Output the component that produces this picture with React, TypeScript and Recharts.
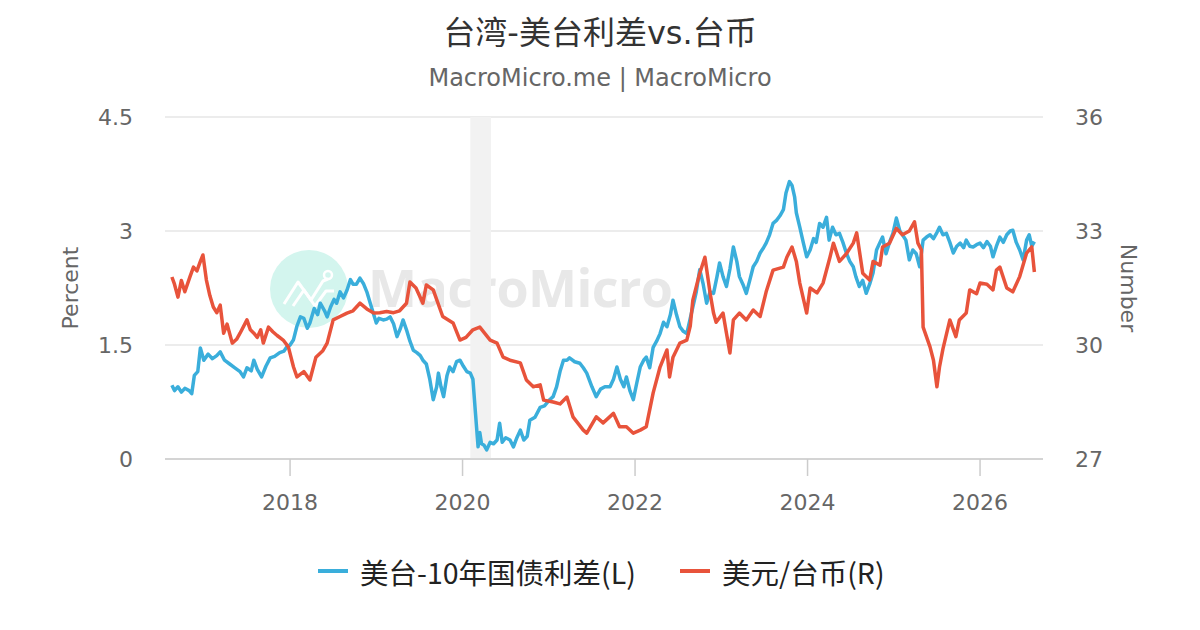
import { CartesianGrid, Line, LineChart, ReferenceArea, XAxis, YAxis } from 'recharts'

// 美台-10年国债利差 (left axis, %)
const spreadDates = [
  2016.63, 2016.66, 2016.70, 2016.74, 2016.78, 2016.83, 2016.86, 2016.89, 2016.93, 2016.96,
  2017.00, 2017.05, 2017.10, 2017.15, 2017.19, 2017.24, 2017.30, 2017.36, 2017.42, 2017.46,
  2017.50, 2017.55, 2017.58, 2017.62, 2017.67, 2017.72, 2017.77, 2017.82, 2017.88, 2017.93,
  2017.96, 2018.00, 2018.04, 2018.08, 2018.12, 2018.16, 2018.20, 2018.23, 2018.28, 2018.32,
  2018.35, 2018.40, 2018.43, 2018.47, 2018.51, 2018.54, 2018.58, 2018.62, 2018.66, 2018.70,
  2018.73, 2018.77, 2018.81, 2018.85, 2018.89, 2018.93, 2018.97, 2019.00, 2019.03, 2019.08,
  2019.12, 2019.16, 2019.20, 2019.24, 2019.28, 2019.31, 2019.35, 2019.39, 2019.43, 2019.47,
  2019.51, 2019.54, 2019.58, 2019.62, 2019.66, 2019.70, 2019.72, 2019.75, 2019.78, 2019.82,
  2019.85, 2019.89, 2019.93, 2019.97, 2020.01, 2020.05, 2020.09, 2020.12, 2020.15, 2020.18,
  2020.20, 2020.22, 2020.25, 2020.28, 2020.32, 2020.36, 2020.40, 2020.43, 2020.46, 2020.50,
  2020.55, 2020.59, 2020.63, 2020.67, 2020.71, 2020.75, 2020.78, 2020.84, 2020.90, 2020.95,
  2021.01, 2021.05, 2021.09, 2021.13, 2021.17, 2021.21, 2021.24, 2021.30, 2021.36, 2021.40,
  2021.44, 2021.50, 2021.55, 2021.60, 2021.65, 2021.71, 2021.75, 2021.79, 2021.83, 2021.87,
  2021.90, 2021.94, 2021.98, 2022.02, 2022.06, 2022.10, 2022.13, 2022.17, 2022.21, 2022.25,
  2022.29, 2022.33, 2022.37, 2022.41, 2022.44, 2022.48, 2022.52, 2022.56, 2022.60, 2022.64,
  2022.67, 2022.71, 2022.75, 2022.79, 2022.83, 2022.87, 2022.91, 2022.95, 2022.98, 2023.02,
  2023.06, 2023.10, 2023.14, 2023.18, 2023.21, 2023.25, 2023.29, 2023.33, 2023.37, 2023.41,
  2023.45, 2023.49, 2023.52, 2023.56, 2023.60, 2023.64, 2023.68, 2023.72, 2023.75, 2023.79,
  2023.82, 2023.85, 2023.87, 2023.91, 2023.95, 2023.99, 2024.03, 2024.07, 2024.10, 2024.14,
  2024.18, 2024.22, 2024.25, 2024.29, 2024.33, 2024.37, 2024.41, 2024.45, 2024.49, 2024.53,
  2024.56, 2024.60, 2024.64, 2024.68, 2024.72, 2024.76, 2024.80, 2024.84, 2024.87, 2024.91,
  2024.95, 2024.99, 2025.03, 2025.07, 2025.10, 2025.14, 2025.18, 2025.22, 2025.26, 2025.30,
  2025.34, 2025.38, 2025.42, 2025.46, 2025.50, 2025.53, 2025.57, 2025.61, 2025.65, 2025.69,
  2025.73, 2025.77, 2025.81, 2025.84, 2025.88, 2025.92, 2025.96, 2026.00, 2026.04, 2026.08,
  2026.12, 2026.15, 2026.19, 2026.23, 2026.27, 2026.31, 2026.35, 2026.38, 2026.42, 2026.46,
  2026.50, 2026.54, 2026.57, 2026.60, 2026.63,
]
const spreadValues = [
  0.97, 0.90, 0.95, 0.88, 0.93, 0.90, 0.86, 1.10, 1.15, 1.46,
  1.30, 1.38, 1.32, 1.36, 1.41, 1.30, 1.25, 1.20, 1.15, 1.08,
  1.20, 1.16, 1.30, 1.18, 1.08, 1.22, 1.33, 1.35, 1.40, 1.42,
  1.47, 1.50, 1.57, 1.75, 1.87, 1.85, 1.72, 1.79, 1.98, 1.90,
  2.05, 1.95, 1.87, 2.00, 2.10, 2.05, 2.20, 2.12, 2.22, 2.36,
  2.30, 2.30, 2.38, 2.31, 2.20, 2.05, 1.90, 1.79, 1.85, 1.83,
  1.84, 1.87, 1.78, 1.61, 1.72, 1.83, 1.70, 1.55, 1.43, 1.40,
  1.36, 1.30, 1.25, 1.05, 0.78, 0.95, 1.13, 0.95, 0.82, 1.10,
  1.21, 1.15, 1.28, 1.30, 1.22, 1.15, 1.13, 1.05, 0.60, 0.16,
  0.35, 0.20, 0.18, 0.12, 0.22, 0.20, 0.25, 0.47, 0.22, 0.28,
  0.25, 0.16, 0.28, 0.38, 0.25, 0.30, 0.51, 0.55, 0.68, 0.70,
  0.78, 0.82, 0.95, 1.15, 1.30, 1.30, 1.33, 1.28, 1.26, 1.20,
  1.13, 0.95, 0.82, 0.92, 0.95, 0.95, 1.05, 1.21, 1.05, 0.95,
  1.08, 0.90, 0.78, 1.00, 1.21, 1.30, 1.34, 1.20, 1.47, 1.55,
  1.65, 1.80, 1.74, 1.90, 2.09, 1.90, 1.74, 1.68, 1.65, 1.85,
  2.00, 2.20, 2.49, 2.30, 2.05, 2.20, 2.18, 2.40, 2.58, 2.40,
  2.27, 2.50, 2.79, 2.60, 2.40, 2.30, 2.18, 2.35, 2.53, 2.60,
  2.71, 2.78, 2.84, 2.95, 3.10, 3.14, 3.20, 3.28, 3.50, 3.65,
  3.60, 3.45, 3.24, 3.05, 2.85, 2.66, 2.75, 2.90, 2.85, 3.10,
  3.05, 3.18, 2.88, 3.05, 2.95, 2.97, 2.85, 2.71, 2.60, 2.53,
  2.40, 2.27, 2.35, 2.18, 2.30, 2.45, 2.75, 2.85, 2.92, 2.70,
  2.85, 2.97, 3.17, 3.00, 2.95, 2.88, 2.62, 2.75, 2.70, 2.53,
  2.88, 2.92, 2.95, 2.90, 2.98, 3.05, 2.95, 2.97, 2.85, 2.71,
  2.80, 2.84, 2.78, 2.88, 2.80, 2.79, 2.82, 2.84, 2.78, 2.86,
  2.80, 2.66, 2.80, 2.92, 2.85, 2.95, 3.00, 3.01, 2.85, 2.75,
  2.62, 2.88, 2.95, 2.80, 2.86,
]

// 美元/台币 (right axis)
const twdDates = [
  2016.63, 2016.66, 2016.70, 2016.74, 2016.78, 2016.84, 2016.88, 2016.92, 2016.96, 2016.99,
  2017.03, 2017.07, 2017.11, 2017.15, 2017.19, 2017.23, 2017.27, 2017.33, 2017.38, 2017.42,
  2017.50, 2017.54, 2017.58, 2017.62, 2017.66, 2017.69, 2017.75, 2017.80, 2017.85, 2017.92,
  2017.98, 2018.04, 2018.08, 2018.16, 2018.23, 2018.30, 2018.38, 2018.43, 2018.50, 2018.58,
  2018.66, 2018.73, 2018.81, 2018.89, 2018.97, 2019.04, 2019.12, 2019.20, 2019.27, 2019.35,
  2019.39, 2019.46, 2019.54, 2019.58, 2019.66, 2019.77, 2019.89, 2019.97, 2020.04, 2020.12,
  2020.20, 2020.32, 2020.40, 2020.47, 2020.55, 2020.67, 2020.74, 2020.82, 2020.90, 2020.94,
  2021.05, 2021.13, 2021.21, 2021.28, 2021.40, 2021.44, 2021.55, 2021.63, 2021.75, 2021.82,
  2021.90, 2021.98, 2022.06, 2022.13, 2022.21, 2022.29, 2022.37, 2022.40, 2022.44, 2022.52,
  2022.60, 2022.64, 2022.67, 2022.75, 2022.81, 2022.87, 2022.91, 2022.94, 2023.02, 2023.06,
  2023.10, 2023.14, 2023.21, 2023.29, 2023.37, 2023.45, 2023.52, 2023.60, 2023.72, 2023.76,
  2023.82, 2023.87, 2023.91, 2023.99, 2024.03, 2024.11, 2024.18, 2024.26, 2024.30, 2024.37,
  2024.45, 2024.53, 2024.57, 2024.64, 2024.72, 2024.76, 2024.84, 2024.87, 2024.95, 2025.03,
  2025.10, 2025.18, 2025.24, 2025.28, 2025.32, 2025.34, 2025.42, 2025.46, 2025.50, 2025.53,
  2025.57, 2025.65, 2025.72, 2025.76, 2025.84, 2025.88, 2025.96, 2026.00, 2026.08, 2026.15,
  2026.19, 2026.23, 2026.31, 2026.38, 2026.46, 2026.54, 2026.60, 2026.63,
]
const twdValues = [
  31.79, 31.60, 31.26, 31.70, 31.40, 31.80, 32.05, 31.95, 32.20, 32.37,
  31.71, 31.30, 31.00, 30.85, 31.05, 30.31, 30.55, 30.05, 30.15, 30.31,
  30.66, 30.40, 30.31, 30.20, 30.40, 30.05, 30.47, 30.35, 30.25, 30.13,
  29.95, 29.42, 29.16, 29.30, 29.08, 29.68, 29.85, 30.05, 30.66, 30.75,
  30.84, 30.90, 31.10, 30.95, 30.84, 30.85, 30.88, 30.85, 30.90, 31.10,
  31.66, 31.50, 31.10, 31.58, 31.45, 30.75, 30.58, 30.13, 30.20, 30.40,
  30.47, 30.13, 30.05, 29.68, 29.60, 29.53, 29.08, 28.90, 28.95, 28.55,
  28.50, 28.45, 28.63, 28.11, 27.76, 27.68, 28.11, 27.95, 28.20, 27.85,
  27.85, 27.68, 27.76, 27.85, 28.74, 29.42, 29.87, 29.16, 29.68, 30.05,
  30.13, 30.50, 31.18, 31.89, 32.31, 31.37, 30.84, 30.60, 30.84, 30.31,
  29.79, 30.66, 30.84, 30.66, 30.92, 30.75, 31.40, 31.97, 32.05, 32.31,
  32.58, 32.20, 31.63, 30.84, 31.50, 31.37, 31.63, 32.31, 32.68, 32.20,
  32.40, 32.68, 32.95, 31.89, 31.71, 32.20, 32.10, 32.58, 32.68, 33.07,
  32.90, 33.00, 33.24, 32.68, 32.50, 30.47, 29.95, 29.60, 28.90, 29.42,
  29.90, 30.66, 30.22, 30.66, 30.84, 31.45, 31.35, 31.63, 31.60, 31.45,
  31.97, 32.05, 31.50, 31.40, 31.80, 32.42, 32.58, 31.92,
]

const yearTicks = [2018, 2020, 2022, 2024, 2026]
const leftTicks = [0, 1.5, 3, 4.5]
const rightTicks = [27, 30, 33, 36]
const recession = [2020.09, 2020.33]

const spreadData = spreadDates.map((t, i) => ({ t, spread: spreadValues[i] }))
const twdData = twdDates.map((t, i) => ({ t, twd: twdValues[i] }))

const BLUE = '#3AAEDB'
const RED = '#E8533B'
const LATIN = '"DejaVu Sans", "Noto Sans CJK SC", sans-serif'
const CJK = '"Noto Sans CJK SC", "Noto Sans", sans-serif'

const tickStyle = { fill: '#666', fontSize: 22, fontFamily: LATIN }

function Backdrop() {
  return (
    <svg width={1200} height={630} style={{ position: 'absolute', left: 0, top: 0 }}>
      <text x={600} y={33} textAnchor="middle" dominantBaseline="central" fontSize={32} fill="#333" fontFamily={LATIN}>
        台湾-美台利差vs.台币
      </text>
      <text x={600} y={78} textAnchor="middle" dominantBaseline="central" fontSize={24} fill="#666" fontFamily={LATIN}>
        MacroMicro.me | MacroMicro
      </text>

      {/* watermark */}
      <circle cx={309} cy={289} r={39} fill="#d3f5ee" />
      <polyline points="284,304 298,282 311,300 323,281 328,279" fill="none" stroke="#fff" strokeWidth={3} strokeLinejoin="round" />
      <polyline points="293,306 304,290 315,306 326,291 334,291" fill="none" stroke="#fff" strokeWidth={3} strokeLinejoin="round" />
      <circle cx={328} cy={275} r={4} fill="none" stroke="#fff" strokeWidth={2.5} />
      <text x={368} y={307} fontSize={52} fontWeight={700} fill="#e8e8e8" fontFamily='"Open Sans", sans-serif' textLength={305}>
        MacroMicro
      </text>

      <text transform="translate(70,288) rotate(-90)" textAnchor="middle" dominantBaseline="central" fontSize={22} fill="#666" fontFamily={LATIN}>
        Percent
      </text>
      <text transform="translate(1128,288) rotate(90)" textAnchor="middle" dominantBaseline="central" fontSize={22} fill="#666" fontFamily={LATIN}>
        Number
      </text>

      <line x1={318} y1={571} x2={348} y2={571} stroke={BLUE} strokeWidth={4} />
      <text x={360} y={571} dominantBaseline="central" fontSize={28.5} fill="#222" fontFamily={CJK}>
        美台-10年国债利差(L)
      </text>
      <line x1={680} y1={571} x2={710} y2={571} stroke={RED} strokeWidth={4} />
      <text x={722} y={571} dominantBaseline="central" fontSize={28.5} fill="#222" fontFamily={CJK}>
        美元/台币(R)
      </text>
    </svg>
  )
}

export default function App() {
  return (
    <div style={{ position: 'absolute', left: 0, top: 0, width: 1200, height: 630, background: '#fff', overflow: 'hidden' }}>
      <Backdrop />
      <div style={{ position: 'absolute', left: 0, top: 0 }}>
        <LineChart width={1200} height={630} margin={{ top: 117, right: 92, bottom: 131, left: 100 }}>
          <CartesianGrid yAxisId="left" vertical={false} stroke="#e6e6e6" strokeWidth={1.5} />
          <XAxis
            dataKey="t"
            type="number"
            domain={[2016.55, 2026.73]}
            ticks={yearTicks}
            allowDataOverflow
            height={40}
            tickSize={17}
            tickMargin={18}
            tick={tickStyle}
            stroke="#ccc"
            tickLine={{ stroke: '#ccc', strokeWidth: 1.5 }}
            axisLine={{ stroke: '#ccc', strokeWidth: 1.5 }}
          />
          <YAxis
            yAxisId="left"
            orientation="left"
            domain={[0, 4.5]}
            ticks={leftTicks}
            width={65}
            tickSize={0}
            tickMargin={32}
            tickLine={false}
            axisLine={false}
            tick={tickStyle}
          />
          <YAxis
            yAxisId="right"
            orientation="right"
            domain={[27, 36]}
            ticks={rightTicks}
            width={65}
            tickSize={0}
            tickMargin={32}
            tickLine={false}
            axisLine={false}
            tick={tickStyle}
          />
          <ReferenceArea yAxisId="left" x1={recession[0]} x2={recession[1]} y1={0} y2={4.5} fill="#f2f2f2" fillOpacity={1} stroke="none" />
          <Line
            yAxisId="left"
            data={spreadData}
            dataKey="spread"
            type="linear"
            stroke={BLUE}
            strokeWidth={3.5}
            strokeLinejoin="round"
            dot={false}
            activeDot={false}
            isAnimationActive={false}
          />
          <Line
            yAxisId="right"
            data={twdData}
            dataKey="twd"
            type="linear"
            stroke={RED}
            strokeWidth={3.5}
            strokeLinejoin="round"
            dot={false}
            activeDot={false}
            isAnimationActive={false}
          />
        </LineChart>
      </div>
    </div>
  )
}
